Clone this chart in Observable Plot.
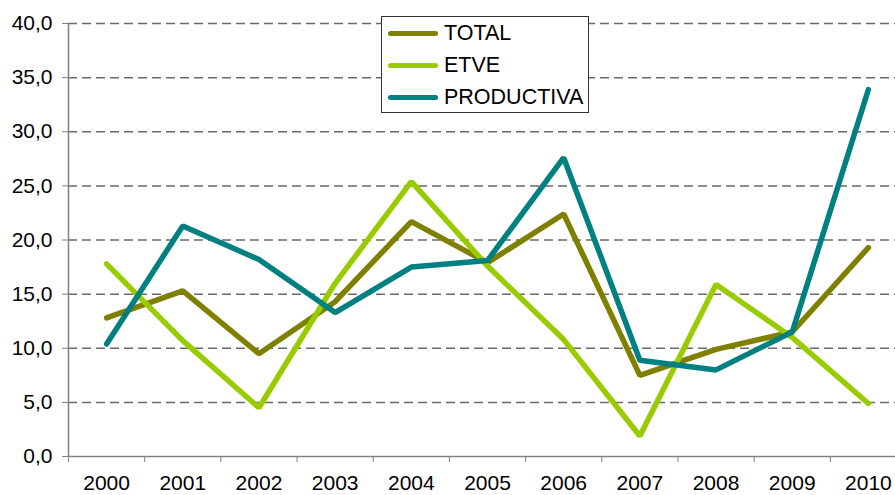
<!DOCTYPE html>
<html>
<head>
<meta charset="utf-8">
<script src="https://cdn.jsdelivr.net/npm/d3@7"></script>
<script src="https://cdn.jsdelivr.net/npm/@observablehq/plot@0.6"></script>
<style>
  html, body { margin: 0; padding: 0; background: #fff; overflow: hidden; }
  #wrap { position: relative; width: 895px; height: 495px; overflow: hidden; }
  #wrap svg { overflow: hidden; }
  #legend { position: absolute; left: 381px; top: 16px; width: 208px; height: 97px;
    border: 1px solid #333; background: #fff; font-family: "Liberation Sans", Arial, sans-serif;
    font-size: 21.5px; color: #000; box-sizing: border-box; }
  .item { position: absolute; left: 6px; height: 20px; display: flex; align-items: center; }
  .item span.sw { display: inline-block; width: 50px; height: 5px; border-radius: 3px; margin-right: 6px; }
</style>
</head>
<body>
<div id="wrap"></div>
<script>
const years = [2000, 2001, 2002, 2003, 2004, 2005, 2006, 2007, 2008, 2009, 2010];
const total = [12.8, 15.3, 9.5, 14.3, 21.7, 17.9, 22.4, 7.5, 9.9, 11.5, 19.3];
const etve = [17.8, 10.7, 4.5, 16.0, 25.4, 17.6, 10.8, 1.9, 15.9, 11.0, 4.9];
const productiva = [10.4, 21.3, 18.2, 13.3, 17.5, 18.1, 27.6, 8.9, 8.0, 11.5, 33.9];
const seriesNames = ["TOTAL", "ETVE", "PRODUCTIVA"];
const seriesColors = ["#808000", "#99CC00", "#008080"];
const yTicks = [0, 5, 10, 15, 20, 25, 30, 35, 40];

const seriesValues = [total, etve, productiva];
const data = [];
seriesNames.forEach((s, k) => years.forEach((yr, i) => data.push({series: s, year: yr, value: seriesValues[k][i]})));
const boundaries = years.map(y => y - 0.5);
const fmt = d => d.toFixed(1).replace(".", ",");

const chart = Plot.plot({
  width: 895,
  height: 495,
  marginLeft: 68,
  marginTop: 23,
  marginBottom: 39,
  marginRight: 0,
  style: {fontFamily: "'Liberation Sans', Arial, sans-serif", fontSize: "21px", color: "#000", background: "#fff"},
  x: {domain: [1999.5, 2010.5], range: [68, 906]},
  y: {domain: [0, 40]},
  color: {domain: seriesNames, range: seriesColors},
  marks: [
    Plot.gridY(yTicks.filter(v => v > 0), {stroke: "#6a6a6a", strokeOpacity: 1, strokeWidth: 1.5, strokeDasharray: "9,5"}),
    Plot.ruleX([1999.5], {stroke: "#808080", strokeWidth: 1.5}),
    Plot.ruleY([0], {stroke: "#808080", strokeWidth: 1.5}),
    Plot.axisY(yTicks, {tickSize: 6, tickPadding: 10, tickFormat: fmt, stroke: "#808080", label: null, fill: "#000"}),
    Plot.axisX(boundaries, {tickSize: 6, tickFormat: () => "", stroke: "#808080", label: null}),
    Plot.axisX(years, {tickSize: 0, tickPadding: 19, tickFormat: d => String(d), label: null, fill: "#000"}),
    Plot.line(data, {x: "year", y: "value", z: "series", stroke: "series", strokeWidth: 5.5, strokeLinecap: "round", strokeLinejoin: "miter"})
  ]
});
const wrap = document.getElementById("wrap");
wrap.appendChild(chart);

const legend = document.createElement("div");
legend.id = "legend";
const rowY = [6, 38, 70];
seriesNames.forEach((s, i) => {
  const it = document.createElement("div");
  it.className = "item";
  it.style.top = rowY[i] + "px";
  it.innerHTML = `<span class="sw" style="background:${seriesColors[i]}"></span><span>${s}</span>`;
  legend.appendChild(it);
});
wrap.appendChild(legend);
</script>
</body>
</html>
